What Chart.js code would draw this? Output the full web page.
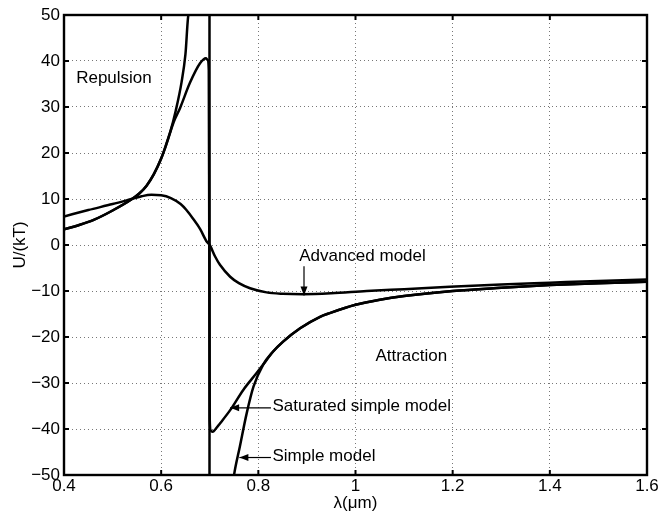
<!DOCTYPE html>
<html><head><meta charset="utf-8">
<script src="https://cdn.jsdelivr.net/npm/chart.js@4/dist/chart.umd.min.js"></script>
<style>html,body{margin:0;padding:0;background:#fff}</style>
</head><body>
<canvas id="c" width="660" height="521"></canvas>
<script>
// ---- data ----
const xTicks = [0.4, 0.6, 0.8, 1.0, 1.2, 1.4, 1.6];
const yTicks = [-50, -40, -30, -20, -10, 0, 10, 20, 30, 40, 50];

const simpleLambda = [0.40, 0.43, 0.46, 0.50, 0.54, 0.555, 0.57, 0.585, 0.60, 0.609, 0.618, 0.63, 0.642, 0.65, 0.656, 0.665, 0.699,
  0.700, 0.745, 0.750, 0.762, 0.776, 0.790, 0.810, 0.830, 0.851, 0.886, 0.927, 0.947, 1.00, 1.05, 1.10, 1.20, 1.30, 1.40, 1.50, 1.60];
const simpleU = [3.4, 4.3, 5.4, 7.5, 10.0, 11.2, 12.9, 15.4, 18.8, 21.4, 24.3, 29.2, 35.4, 41.5, 50, 65, 1000,
  -1000, -60, -50, -43.8, -36.6, -30.8, -26.0, -23.2, -21.0, -18.1, -15.6, -14.8, -13.0, -11.9, -11.1, -10.0, -9.3, -8.7, -8.3, -8.0];

const saturatedLambda = [0.40, 0.43, 0.46, 0.50, 0.54, 0.555, 0.57, 0.585, 0.60, 0.609, 0.618, 0.626, 0.639, 0.659, 0.680, 0.692, 0.696, 0.698, 0.699,
  0.700, 0.702, 0.706, 0.712, 0.721, 0.742, 0.769, 0.796, 0.810, 0.830, 0.851, 0.886, 0.927, 0.947, 1.00, 1.05, 1.10, 1.20, 1.30, 1.40, 1.50, 1.60];
const saturatedU = [3.4, 4.3, 5.4, 7.5, 10.0, 11.2, 12.9, 15.4, 18.8, 21.4, 24.3, 26.8, 29.8, 35.2, 39.5, 40.6, 40.2, 38.0, 0,
  -38.0, -40.3, -40.6, -40.0, -38.8, -35.9, -31.5, -27.9, -26.0, -23.2, -21.0, -18.1, -15.6, -14.8, -13.0, -11.9, -11.1, -10.0, -9.3, -8.7, -8.3, -8.0];

const advancedLambda = [0.40, 0.45, 0.50, 0.539, 0.56, 0.58, 0.60, 0.62, 0.64, 0.652, 0.665, 0.68, 0.694, 0.70, 0.711, 0.721,
  0.742, 0.76, 0.783, 0.817, 0.85, 0.892, 0.95, 1.023, 1.10, 1.194, 1.30, 1.40, 1.50, 1.60];
const advancedU = [6.2, 7.6, 8.9, 10.0, 10.6, 10.9, 10.8, 10.2, 8.9, 7.6, 5.8, 3.5, 0.7, 0.0, -2.5, -4.3,
  -6.9, -8.3, -9.4, -10.3, -10.6, -10.7, -10.5, -10.0, -9.6, -9.1, -8.6, -8.2, -7.8, -7.5];

// ---- annotations (data coordinates) ----
const notes = [
  { text: 'Repulsion', at: [0.425, 36.3], align: 'left' },
  { text: 'Attraction', at: [1.041, -24.1], align: 'left' },
  { text: 'Advanced model', at: [0.884, -2.5], align: 'left', from: [0.894, -4.6], to: [0.894, -11.0] },
  { text: 'Saturated simple model', at: [0.829, -35.1], align: 'left', from: [0.826, -35.4], to: [0.742, -35.4] },
  { text: 'Simple model', at: [0.829, -45.9], align: 'left', from: [0.826, -46.2], to: [0.761, -46.2] }
];

const FONT = '"Liberation Sans", Arial, Helvetica, sans-serif';
const toPts = (xs, ys) => xs.map((x, i) => ({ x: x, y: ys[i] }));
const lineStyle = {
  showLine: true, borderColor: '#000', borderWidth: 2.5, pointRadius: 0, pointHoverRadius: 0,
  fill: false, cubicInterpolationMode: 'monotone', capBezierPoints: false
};

const framePlugin = {
  id: 'frame',
  afterDatasetsDraw(chart) {
    const { ctx, chartArea: a, scales } = chart;
    ctx.save();
    ctx.strokeStyle = '#000';
    ctx.lineWidth = 2;
    const tl = 5;
    ctx.beginPath();
    xTicks.forEach(v => {
      const px = scales.x.getPixelForValue(v);
      ctx.moveTo(px, a.bottom); ctx.lineTo(px, a.bottom - tl);
      ctx.moveTo(px, a.top); ctx.lineTo(px, a.top + tl);
    });
    yTicks.forEach(v => {
      const py = scales.y.getPixelForValue(v);
      ctx.moveTo(a.left, py); ctx.lineTo(a.left + tl, py);
      ctx.moveTo(a.right, py); ctx.lineTo(a.right - tl, py);
    });
    ctx.stroke();
    ctx.lineWidth = 2.4;
    ctx.strokeRect(a.left, a.top, a.right - a.left, a.bottom - a.top);

    // annotations
    ctx.fillStyle = '#000';
    ctx.font = '17px ' + FONT;
    ctx.textBaseline = 'middle';
    notes.forEach(n => {
      ctx.textAlign = n.align;
      ctx.fillText(n.text, scales.x.getPixelForValue(n.at[0]), scales.y.getPixelForValue(n.at[1]));
      if (n.from) {
        const x1 = scales.x.getPixelForValue(n.from[0]), y1 = scales.y.getPixelForValue(n.from[1]);
        const x2 = scales.x.getPixelForValue(n.to[0]), y2 = scales.y.getPixelForValue(n.to[1]);
        ctx.lineWidth = 1.2;
        ctx.beginPath(); ctx.moveTo(x1, y1); ctx.lineTo(x2, y2); ctx.stroke();
        const ang = Math.atan2(y2 - y1, x2 - x1), L = 9, W = 3.5;
        ctx.beginPath();
        ctx.moveTo(x2, y2);
        ctx.lineTo(x2 - L * Math.cos(ang) + W * Math.sin(ang), y2 - L * Math.sin(ang) - W * Math.cos(ang));
        ctx.lineTo(x2 - L * Math.cos(ang) - W * Math.sin(ang), y2 - L * Math.sin(ang) + W * Math.cos(ang));
        ctx.closePath(); ctx.fill();
      }
    });
    ctx.restore();
  }
};

new Chart(document.getElementById('c'), {
  type: 'scatter',
  data: {
    datasets: [
      Object.assign({ label: 'Simple model', data: toPts(simpleLambda, simpleU) }, lineStyle),
      Object.assign({ label: 'Saturated simple model', data: toPts(saturatedLambda, saturatedU) }, lineStyle),
      Object.assign({ label: 'Advanced model', data: toPts(advancedLambda, advancedU) }, lineStyle)
    ]
  },
  options: {
    responsive: false, animation: false, events: [],
    layout: { padding: { left: 0, right: 13, top: 15, bottom: 0 } },
    plugins: { legend: { display: false }, tooltip: { enabled: false } },
    scales: {
      x: {
        type: 'linear', min: 0.4, max: 1.6,
        afterBuildTicks: s => { s.ticks = xTicks.map(v => ({ value: v })); },
        afterFit: s => { s.height = 46; },
        grid: { color: '#777', lineWidth: 1, drawTicks: false },
        border: { display: false, dash: [1, 3] },
        ticks: {
          color: '#000', padding: 1, maxRotation: 0, autoSkip: false,
          font: { family: FONT, size: 17 },
          callback: v => String(Math.round(v * 10) / 10)
        },
        title: { display: true, text: 'λ(μm)', color: '#000', font: { family: FONT, size: 17 }, padding: { top: 0, bottom: 7 } }
      },
      y: {
        type: 'linear', min: -50, max: 50,
        afterBuildTicks: s => { s.ticks = yTicks.map(v => ({ value: v })); },
        afterFit: s => { s.width = 64; },
        grid: { color: '#777', lineWidth: 1, drawTicks: false },
        border: { display: false, dash: [1, 3] },
        ticks: {
          color: '#000', padding: 4, autoSkip: false,
          font: { family: FONT, size: 17 },
          callback: v => (v < 0 ? '\u2212' + Math.abs(v) : String(v))
        },
        title: { display: true, text: 'U/(kT)', color: '#000', font: { family: FONT, size: 17 }, padding: { top: 10, bottom: 0 } }
      }
    }
  },
  plugins: [framePlugin]
});
</script>
</body></html>
